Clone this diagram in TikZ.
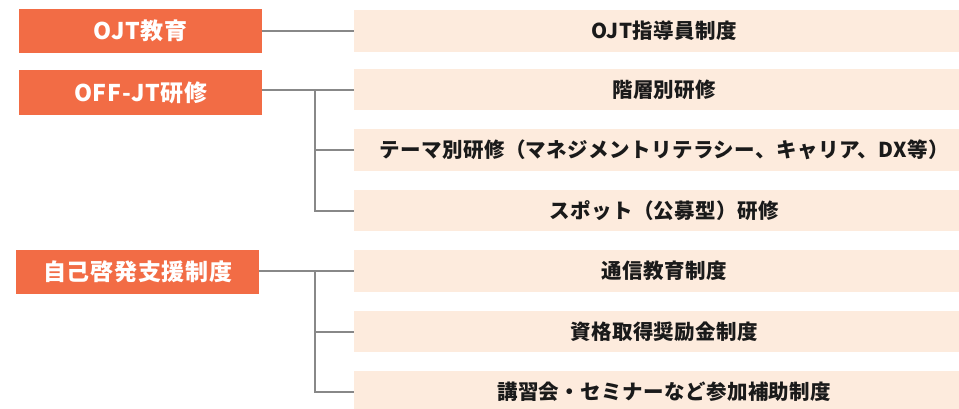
\documentclass[tikz,border=0pt]{standalone}
\usepackage{fontspec}
\newfontfamily\jp{Noto Sans CJK JP}[LetterSpace=3]
\newfontfamily\jpr{Noto Sans CJK JP}[LetterSpace=2]
\definecolor{mainor}{HTML}{F26C45}
\definecolor{peach}{HTML}{FDEBDD}
\definecolor{linegray}{HTML}{888888}
\definecolor{txt}{HTML}{1A1A1A}
\begin{document}
\begin{tikzpicture}[x=1pt,y=-1pt,
  mainbox/.style={anchor=north west, fill=mainor, text=white, minimum width=243pt, inner sep=0pt,
    font=\jp\bfseries\fontsize{23}{24}\selectfont},
  subbox/.style={anchor=north west, fill=peach, text=txt, minimum width=620pt, inner sep=0pt,
    font=\jpr\bfseries\fontsize{20.5}{21}\selectfont},
  link/.style={draw=linegray, line width=1.6pt}]
\useasboundingbox (0,0) rectangle (959,408);
\clip (0,0) rectangle (959,408);
% left boxes
\node[mainbox, minimum height=44pt] (L1) at (19,9) {OJT教育};
\node[mainbox, minimum height=45pt] (L2) at (19,70) {OFF-JT研修};
\node[mainbox, minimum height=44pt] (L3) at (16,250) {自己啓発支援制度};
% right boxes
\node[subbox, minimum height=42pt] (R1) at (354,10) {OJT指導員制度};
\node[subbox, minimum height=41pt] (R2) at (354,69) {階層別研修};
\node[subbox, minimum height=42pt] (R3) at (354,129) {テーマ別研修（マネジメントリテラシー、キャリア、DX等）};
\node[subbox, minimum height=41pt] (R4) at (354,190) {スポット（公募型）研修};
\node[subbox, minimum height=42pt] (R5) at (354,250) {通信教育制度};
\node[subbox, minimum height=41pt] (R6) at (354,311) {資格取得奨励金制度};
\node[subbox, minimum height=41pt] (R7) at (354,371) {講習会・セミナーなど参加補助制度};
% junctions
\coordinate (J2) at (315,0);
\coordinate (J3) at (315,0);
% connectors
\draw[link] (L1.east |- R1.west) -- (R1.west);
\draw[link] (L2.east |- R2.west) -- (R2.west);
\draw[link] (J2 |- R2.west) -- (J2 |- R4.west) -- (R4.west);
\draw[link] (J2 |- R3.west) -- (R3.west);
\draw[link] (L3.east |- R5.west) -- (R5.west);
\draw[link] (J3 |- R5.west) -- (J3 |- R7.west) -- (R7.west);
\draw[link] (J3 |- R6.west) -- (R6.west);
\end{tikzpicture}
\end{document}
